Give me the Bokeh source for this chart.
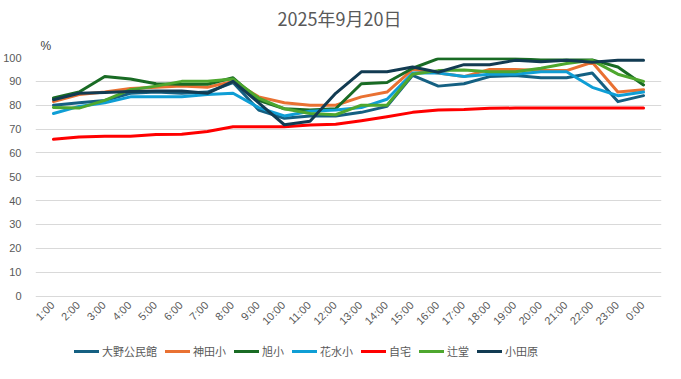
import math
from bokeh.plotting import figure
from bokeh.models import FactorRange, Range1d, Title, FixedTicker
from bokeh.core.properties import value
from bokeh.embed import file_html
from bokeh.resources import INLINE

hours = ["1:00", "2:00", "3:00", "4:00", "5:00", "6:00", "7:00", "8:00", "9:00", "10:00",
         "11:00", "12:00", "13:00", "14:00", "15:00", "16:00", "17:00", "18:00", "19:00",
         "20:00", "21:00", "22:00", "23:00", "0:00"]

ono = [80, 81, 82, 85, 85.5, 85, 85.5, 89.5, 78, 74.5, 75.5, 75.5, 77, 79.5, 92.5, 88,
       89, 92, 92.5, 91.5, 91.5, 93.5, 81.5, 84]
kanda = [81.5, 84.5, 85.5, 87, 87.5, 88, 87.5, 90, 83.5, 81, 80, 80, 83.5, 85.5, 95, 93.5,
         92, 95, 95, 94.5, 94.5, 98, 85.5, 86.5]
asahi = [83, 85.5, 92, 91, 89, 88.8, 88.8, 91.5, 82, 78.5, 78, 78.5, 89, 89.5, 95.5, 99.5,
         99.5, 99.5, 99.5, 99, 99, 99, 96, 88.5]
hanamizu = [76.5, 79.5, 81, 83.5, 83.5, 83.5, 84.5, 85, 79, 75.5, 77.5, 78, 79, 82.5, 93.5,
            93.5, 92, 93, 93, 94, 94, 87.5, 84, 85.5]
jitaku = [65.7, 66.7, 67, 67, 67.7, 67.8, 69, 71, 71, 71, 71.7, 72, 73.5, 75.2, 77, 78,
          78.2, 78.7, 78.8, 78.8, 78.8, 78.8, 78.8, 78.8]
tsujido = [79, 78.8, 82, 86.5, 88, 90, 90, 91, 83, 78.5, 76.5, 76, 80, 80, 93, 94.5, 94.8,
           94, 94, 95.5, 97.5, 98.8, 93, 90]
odawara = [82.3, 85, 85.3, 85.7, 86, 86, 85, 90, 81, 71.8, 73.3, 85, 94, 94, 96, 93.8, 97,
           97, 98.8, 98.2, 98.8, 98, 98.8, 98.8]

series_names = ["大野公民館", "神田小", "旭小", "花水小", "自宅", "辻堂", "小田原"]
series_values = [ono, kanda, asahi, hanamizu, jitaku, tsujido, odawara]
series_colors = ["#156082", "#E97132", "#196B24", "#0F9ED5", "#FF0000", "#4EA72E", "#123B52"]

y_ticks = [0, 10, 20, 30, 40, 50, 60, 70, 80, 90, 100]

TEXT = "#595959"
FONT = "Noto Sans CJK JP"

# the frame reaches down to the bottom of the figure so that the category labels
# and the legend can live inside it, below the 0 line
p = figure(width=665, height=363,
           x_range=FactorRange(*hours, range_padding=0.2, range_padding_units="absolute"),
           y_range=Range1d(-28.3, 100), output_backend="svg", toolbar_location=None,
           x_axis_location=None,
           min_border_left=27, min_border_right=4, min_border_top=50, min_border_bottom=0)

for name, vals, col in zip(series_names, series_values, series_colors):
    p.line(hours, vals, line_color=col, line_width=3, legend_label=name,
           line_join="round", line_cap="round")

# category labels, rotated like the original axis
p.text(x=hours, y=[-3.0] * len(hours), text=hours, angle=math.pi / 4,
       text_align="right", text_baseline="middle", x_offset=-1,
       text_font=value("Liberation Sans"), text_font_size="11px", text_color=TEXT)

p.outline_line_color = None
p.xgrid.grid_line_color = None
p.ygrid.grid_line_color = "#d9d9d9"
p.ygrid.grid_line_width = 1
p.yaxis.ticker = FixedTicker(ticks=y_ticks)

ax = p.yaxis[0]
ax.axis_line_color = None
ax.major_tick_line_color = None
ax.minor_tick_line_color = None
ax.major_label_text_color = TEXT
ax.major_label_text_font = "Liberation Sans"
ax.major_label_text_font_size = "11px"
ax.major_label_standoff = 8

# main title
p.title.text = "2025年9月20日"
p.title.align = "left"
p.title.offset = 242
p.title.text_font = FONT
p.title.text_font_size = "18px"
p.title.text_font_style = "normal"
p.title.text_color = TEXT
p.title.standoff = 4

# unit label above the value axis
p.add_layout(Title(text="%", align="left", offset=5, text_font="Liberation Sans",
                   text_font_size="12px", text_font_style="normal",
                   text_color="#404040", standoff=9), "above")

lg = p.legend[0]
lg.orientation = "horizontal"
lg.location = (39, 2)
lg.padding = 0
lg.margin = 0
lg.spacing = 8
lg.glyph_width = 25
lg.glyph_height = 20
lg.label_height = 20
lg.label_standoff = 3
lg.label_text_font = FONT
lg.label_text_font_size = "11px"
lg.label_text_color = TEXT
lg.border_line_color = None
lg.background_fill_alpha = 0

open("out.html", "w").write(file_html(p, INLINE))
